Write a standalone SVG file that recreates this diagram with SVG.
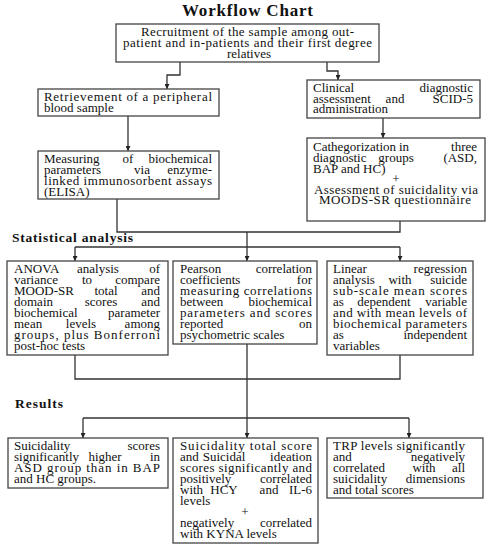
<svg xmlns="http://www.w3.org/2000/svg" width="488" height="550" viewBox="0 0 488 550">
<style>
text{font-family:"Liberation Serif","DejaVu Serif",serif;font-size:13px;fill:#111}
.m{text-anchor:middle}
.e{text-anchor:end}
.h{font-weight:bold}
rect{fill:#fff;stroke:#444;stroke-width:1.3}
.c path{fill:none;stroke:#333;stroke-width:1.3}
</style>
<defs>
<marker id="ar" viewBox="0 0 10 10" refX="10" refY="5" markerWidth="5" markerHeight="5" orient="auto" markerUnits="userSpaceOnUse">
<path d="M0,0 L10,5 L0,10 z" fill="#222"/>
</marker>
</defs>
<rect x="0" y="0" width="488" height="550" style="fill:#fff;stroke:none"/>
<text class="m h" x="247.5" y="16" style="font-size:17px" textLength="131">Workflow Chart</text>
<text class="h" x="12" y="242" style="font-size:13.5px" textLength="121">Statistical analysis</text>
<text class="h" x="15" y="408" style="font-size:13.5px" textLength="48">Results</text>

<g class="c" id="connectors">
<path d="M180,62 V75 H167 V89" marker-end="url(#ar)"/>
<path d="M327,62 V71 H338 V80" marker-end="url(#ar)"/>
<path d="M128,116 V151" marker-end="url(#ar)"/>
<path d="M383,118 V138" marker-end="url(#ar)"/>
<path d="M117,199 V232 H400 V221"/>
<path d="M247,232 V247"/>
<path d="M75,247 H400"/>
<path d="M75,247 V261" marker-end="url(#ar)"/>
<path d="M247,247 V261" marker-end="url(#ar)"/>
<path d="M400,247 V261" marker-end="url(#ar)"/>
<path d="M75,355 V379 H400 V355"/>
<path d="M247,344 V418"/>
<path d="M83,418 H409"/>
<path d="M83,418 V438" marker-end="url(#ar)"/>
<path d="M247,418 V438" marker-end="url(#ar)"/>
<path d="M409,418 V438" marker-end="url(#ar)"/>
</g>

<g id="n-recruit">
<rect x="116" y="24" width="263" height="38"/>
<text class="m" x="247.5" y="36" textLength="213" lengthAdjust="spacing">Recruitment of the sample among out-</text>
<text class="m" x="247.5" y="47" textLength="249" lengthAdjust="spacing">patient and in-patients and their first degree</text>
<text class="m" x="249" y="57.5">relatives</text>
</g>

<g id="n-blood">
<rect x="38" y="89" width="181" height="27"/>
<text x="44" y="101" textLength="168" lengthAdjust="spacing">Retrievement of a peripheral</text>
<text x="44" y="112">blood sample</text>
</g>

<g id="n-clinical">
<rect x="307" y="80" width="173" height="38"/>
<text x="313" y="92">Clinical</text><text class="e" x="473" y="92">diagnostic</text>
<text x="313" y="102.5">assessment</text><text class="m" x="395" y="102.5">and</text><text class="e" x="473" y="102.5">SCID-5</text>
<text x="313" y="113">administration</text>
</g>

<g id="n-elisa">
<rect x="38" y="151" width="181" height="48"/>
<text x="44" y="163">Measuring</text><text class="m" x="128" y="163">of</text><text class="e" x="212" y="163">biochemical</text>
<text x="44" y="174">parameters</text><text class="m" x="142" y="174">via</text><text class="e" x="212" y="174">enzyme-</text>
<text x="44" y="185" textLength="168" lengthAdjust="spacing">linked immunosorbent assays</text>
<text x="44" y="196">(ELISA)</text>
</g>

<g id="n-categ">
<rect x="307" y="138" width="178" height="83"/>
<text x="313" y="151">Cathegorization</text><text class="m" x="404" y="151">in</text><text class="e" x="477" y="151">three</text>
<text x="313" y="162">diagnostic</text><text class="m" x="396" y="162">groups</text><text class="e" x="477" y="162">(ASD,</text>
<text x="313" y="172.5">BAP and HC)</text>
<text class="m" x="396" y="183">+</text>
<text class="m" x="396" y="193.5" textLength="164" lengthAdjust="spacing">Assessment of suicidality via</text>
<text class="m" x="395" y="204" textLength="152" lengthAdjust="spacing">MOODS-SR questionnaire</text>
</g>

<g id="n-anova">
<rect x="7" y="261" width="161" height="94"/>
<text x="14" y="273">ANOVA</text><text class="m" x="98" y="273">analysis</text><text class="e" x="160" y="273">of</text>
<text x="14" y="284">variance</text><text class="m" x="87" y="284">to</text><text class="e" x="160" y="284">compare</text>
<text x="14" y="295">MOOD-SR</text><text class="m" x="106" y="295">total</text><text class="e" x="160" y="295">and</text>
<text x="14" y="306">domain</text><text class="m" x="101" y="306">scores</text><text class="e" x="160" y="306">and</text>
<text x="14" y="317">biochemical</text><text class="e" x="160" y="317">parameter</text>
<text x="14" y="328">mean</text><text class="m" x="81" y="328">levels</text><text class="e" x="160" y="328">among</text>
<text x="14" y="339" textLength="146" lengthAdjust="spacing">groups, plus Bonferroni</text>
<text x="14" y="350">post-hoc tests</text>
</g>

<g id="n-pearson">
<rect x="173" y="261" width="144" height="83"/>
<text x="180" y="273">Pearson</text><text class="e" x="312" y="273">correlation</text>
<text x="180" y="284">coefficients</text><text class="e" x="312" y="284">for</text>
<text x="180" y="295" textLength="132" lengthAdjust="spacing">measuring correlations</text>
<text x="180" y="306">between</text><text class="e" x="312" y="306">biochemical</text>
<text x="180" y="317" textLength="132" lengthAdjust="spacing">parameters and scores</text>
<text x="180" y="328">reported</text><text class="e" x="312" y="328">on</text>
<text x="180" y="339">psychometric scales</text>
</g>

<g id="n-regression">
<rect x="327" y="261" width="146" height="94"/>
<text x="333" y="273">Linear</text><text class="e" x="467" y="273">regression</text>
<text x="333" y="284">analysis</text><text class="m" x="400" y="284">with</text><text class="e" x="467" y="284">suicide</text>
<text x="333" y="295" textLength="134" lengthAdjust="spacing">sub-scale mean scores</text>
<text x="333" y="306">as</text><text class="m" x="384" y="306">dependent</text><text class="e" x="467" y="306">variable</text>
<text x="333" y="317" textLength="134" lengthAdjust="spacing">and with mean levels of</text>
<text x="333" y="328" textLength="134" lengthAdjust="spacing">biochemical parameters</text>
<text x="333" y="339">as</text><text class="e" x="467" y="339">independent</text>
<text x="333" y="350">variables</text>
</g>

<g id="n-res1">
<rect x="8" y="438" width="160" height="50"/>
<text x="14" y="450">Suicidality</text><text class="e" x="160" y="450">scores</text>
<text x="14" y="461">significantly</text><text class="m" x="105" y="461">higher</text><text class="e" x="160" y="461">in</text>
<text x="14" y="472" textLength="146" lengthAdjust="spacing">ASD group than in BAP</text>
<text x="14" y="483">and HC groups.</text>
</g>

<g id="n-res2">
<rect x="173" y="438" width="145" height="105"/>
<text x="180" y="450" textLength="132" lengthAdjust="spacing">Suicidality total score</text>
<text x="180" y="461">and</text><text class="m" x="224" y="461">Suicidal</text><text class="e" x="312" y="461">ideation</text>
<text x="180" y="472" textLength="132" lengthAdjust="spacing">scores significantly and</text>
<text x="180" y="483">positively</text><text class="e" x="312" y="483">correlated</text>
<text x="180" y="494">with</text><text class="m" x="224" y="494">HCY</text><text class="m" x="269" y="494">and</text><text class="e" x="312" y="494">IL-6</text>
<text x="180" y="505">levels</text>
<text class="m" x="245" y="516">+</text>
<text x="180" y="527">negatively</text><text class="e" x="312" y="527">correlated</text>
<text x="180" y="538">with KYNA levels</text>
</g>

<g id="n-res3">
<rect x="327" y="438" width="156" height="60"/>
<text x="333" y="450" textLength="132" lengthAdjust="spacing">TRP levels significantly</text>
<text x="333" y="461">and</text><text class="e" x="465" y="461">negatively</text>
<text x="333" y="472">correlated</text><text class="m" x="424" y="472">with</text><text class="e" x="465" y="472">all</text>
<text x="333" y="483">suicidality</text><text class="e" x="465" y="483">dimensions</text>
<text x="333" y="494">and total scores</text>
</g>
</svg>
